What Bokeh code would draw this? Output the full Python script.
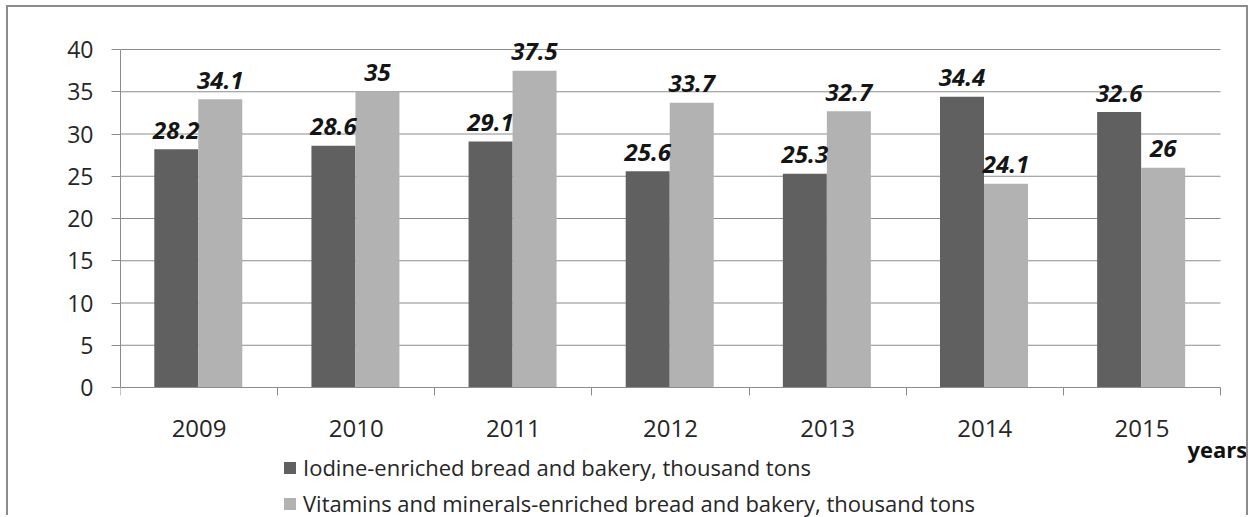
from bokeh.plotting import figure
from bokeh.models import Range1d, FixedTicker, Legend, LegendItem, Label, ColumnDataSource
from bokeh.core.properties import value
from bokeh.embed import file_html
from bokeh.resources import INLINE

# ---- data ----
years = ["2009", "2010", "2011", "2012", "2013", "2014", "2015"]
iodine = [28.2, 28.6, 29.1, 25.6, 25.3, 34.4, 32.6]
vitamins = [34.1, 35, 37.5, 33.7, 32.7, 24.1, 26]
iodine_name = "Iodine-enriched bread and bakery, thousand tons"
vitamins_name = "Vitamins and minerals-enriched bread and bakery, thousand tons"
y_ticks = [0, 5, 10, 15, 20, 25, 30, 35, 40]
x_title = "years"

# ---- style ----
FONT = "Open Sans"
DARK = "#606060"
LIGHT = "#b2b2b2"
GRID = "#8c8c8c"
TXT = "#262626"
BAR_W = 0.28
OFF1, OFF2 = 0.145, 0.135

n = len(years)
y_max = y_ticks[-1]
centers = [i + 0.5 for i in range(n)]

# pixel layout of the canvas (frame fills it, axes are placed inside)
CANVAS_W, CANVAS_H = 1242, 510
LEFT = 112            # y-axis panel width
PLOT_W = 1100         # width of categories area in px
PX_PER_UNIT = 8.45    # vertical px per value unit
TOP_PAD, BOTTOM_PAD = 42, 130

frame_w = CANVAS_W - LEFT
x_end = n * frame_w / PLOT_W
y_end = y_max + TOP_PAD / PX_PER_UNIT
y_start = -BOTTOM_PAD / PX_PER_UNIT

src = ColumnDataSource(dict(
    x1=[c - OFF1 for c in centers], x2=[c + OFF2 for c in centers],
    iodine=iodine, vitamins=vitamins,
    l1=[f"{v:g}" for v in iodine], l2=[f"{v:g}" for v in vitamins],
))

p = figure(width=CANVAS_W, height=CANVAS_H,
           x_range=Range1d(0, x_end), y_range=Range1d(y_start, y_end),
           output_backend="svg", toolbar_location=None,
           min_border_left=LEFT, min_border_top=0, min_border_right=0, min_border_bottom=0)
p.styles = {"border-left": "2px solid #8c8c8c", "border-top": "2px solid #8c8c8c",
            "border-right": "2px solid #8c8c8c", "margin-left": "6px", "margin-top": "5px"}
p.outline_line_color = None
p.background_fill_color = "white"
p.border_fill_color = "white"
p.xgrid.visible = False
p.ygrid.visible = False

# horizontal gridlines over the category span
p.segment(x0=[0] * len(y_ticks), x1=[n] * len(y_ticks), y0=y_ticks, y1=y_ticks,
          line_color=GRID, line_width=1)

r1 = p.vbar(x="x1", top="iodine", width=BAR_W, source=src, fill_color=DARK, line_color=None)
r2 = p.vbar(x="x2", top="vitamins", width=BAR_W, source=src, fill_color=LIGHT, line_color=None)

for xcol, ycol, tcol in (("x1", "iodine", "l1"), ("x2", "vitamins", "l2")):
    p.text(x=xcol, y=ycol, text=tcol, source=src, text_align="center",
           text_baseline="alphabetic", y_offset=-19,
           text_font=value(FONT), text_font_style="bold italic",
           text_font_size="24px", text_color="#151515")

# axes
p.xaxis.fixed_location = 0
p.xaxis.bounds = (0, n)
p.xaxis.ticker = FixedTicker(ticks=centers, minor_ticks=list(range(n + 1)))
p.xaxis.major_label_overrides = {c: y for c, y in zip(centers, years)}
p.xaxis.major_tick_line_color = None
p.xaxis.minor_tick_in = 0
p.xaxis.minor_tick_out = 8
p.xaxis.minor_tick_line_color = GRID
p.xaxis.axis_line_color = GRID
p.xaxis.major_label_text_font = FONT
p.xaxis.major_label_text_font_size = "24px"
p.xaxis.major_label_text_color = TXT
p.xaxis.major_label_standoff = 24

p.yaxis.bounds = (0, y_max)
p.yaxis.ticker = FixedTicker(ticks=y_ticks)
p.yaxis.major_tick_in = 0
p.yaxis.major_tick_out = 9
p.yaxis.major_tick_line_color = GRID
p.yaxis.minor_tick_line_color = None
p.yaxis.axis_line_color = GRID
p.yaxis.major_label_text_font = FONT
p.yaxis.major_label_text_font_size = "23px"
p.yaxis.major_label_text_color = TXT
p.yaxis.major_label_standoff = 18

legend = Legend(items=[LegendItem(label=iodine_name, renderers=[r1]),
                       LegendItem(label=vitamins_name, renderers=[r2])],
                location=(162, -1), orientation="vertical",
                padding=0, margin=0, spacing=6,
                glyph_width=15, glyph_height=15, label_standoff=6,
                label_text_font=FONT, label_text_font_size="22px", label_text_color=TXT,
                border_line_color=None, background_fill_alpha=0)
p.add_layout(legend, "center")

p.add_layout(Label(x=1067, y=69, x_units="screen", y_units="screen", text=x_title,
                   text_font=FONT, text_font_style="bold", text_font_size="22px",
                   text_color="#111111", text_baseline="alphabetic"))

open("out.html", "w").write(file_html(p, INLINE))
